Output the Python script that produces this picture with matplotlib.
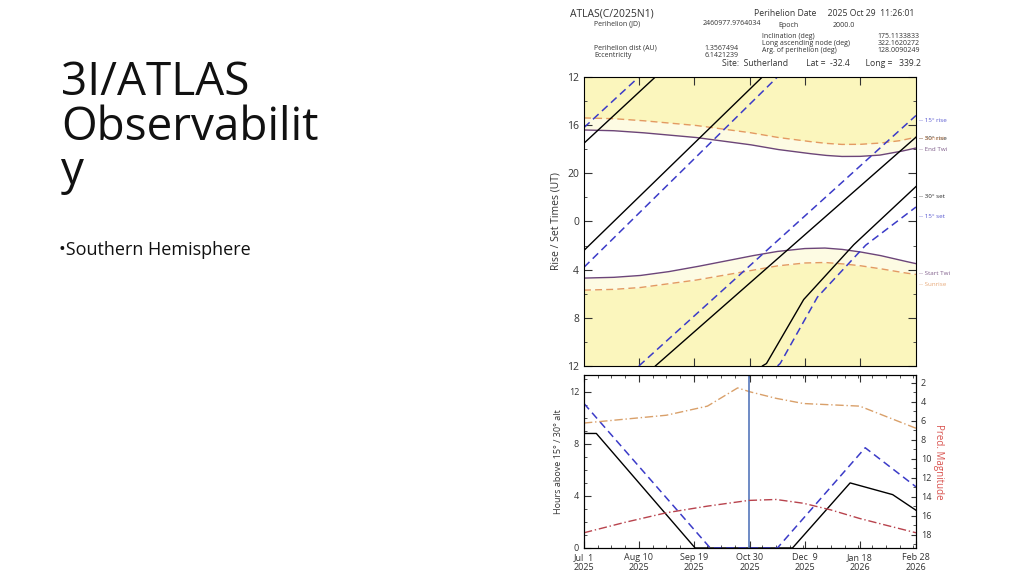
import numpy as np
import matplotlib
matplotlib.use("Agg")
import matplotlib.pyplot as plt

plt.rcParams['font.family'] = ['Open Sans', 'DejaVu Sans']

# ---- top panel: rise/set times (continuous UT hours, decreasing with date) ----
rise30_days = [0, 52, 130, 242]
rise30_hours = [17.5, 12, 4.2, -7]
set30_days = [0, 130, 133, 160, 196, 242]
set30_hours = [26.4, 12, 11.8, 6.5, 2, -2.9]
rise15_days = [0, 40, 242]
rise15_hours = [16.2, 12, -8.8]
set15_days = [0, 141, 143, 170, 205, 242]
set15_hours = [27.8, 12, 11.8, 6.3, 2, -1.2]

twi_days = [0, 20, 40, 60, 80, 100, 120, 140, 160, 175, 187, 200, 215, 230, 242]
end_twi = [16.4, 16.45, 16.6, 16.8, 17.0, 17.3, 17.6, 18.0, 18.3, 18.5, 18.6, 18.6, 18.5, 18.2, 17.9]
sunset = [15.4, 15.45, 15.6, 15.8, 16.0, 16.3, 16.6, 17.0, 17.3, 17.5, 17.6, 17.6, 17.5, 17.3, 17.0]
start_twi = [28.7, 28.65, 28.5, 28.2, 27.8, 27.35, 26.9, 26.5, 26.25, 26.2, 26.3, 26.5, 26.8, 27.2, 27.5]
sunrise = [29.7, 29.65, 29.5, 29.2, 28.9, 28.5, 28.1, 27.7, 27.45, 27.4, 27.5, 27.65, 27.9, 28.2, 28.4]

# ---- bottom panel ----
h30_days = [0, 9, 81, 152, 194, 225, 242]
h30 = [8.8, 8.8, 0, 0, 5.0, 4.1, 2.9]
h15_days = [0, 92, 141, 205, 242]
h15 = [11.1, 0, 0, 7.7, 4.7]
elong_days = [0, 30, 60, 90, 112, 121, 140, 160, 201, 242]
elong = [9.6, 9.9, 10.2, 10.9, 12.3, 12.0, 11.5, 11.1, 10.9, 9.2]
mag_days = [0, 30, 60, 90, 120, 140, 160, 180, 201, 220, 242]
mag = [17.8, 16.7, 15.7, 15.0, 14.4, 14.3, 14.7, 15.4, 16.3, 17.0, 17.8]

tick_days = [0, 40, 80, 121, 161, 201, 242]
tick_labels = ["Jul  1\n2025", "Aug 10\n2025", "Sep 19\n2025", "Oct 30\n2025",
               "Dec  9\n2025", "Jan 18\n2026", "Feb 28\n2026"]
perihelion_day = 120

blue = '#3b3bc8'
purple = '#6c4579'
orange = '#e39a62'
grid_d = np.linspace(0, 242, 1500)


def wrapped(ax, days, hours, **kw):
    h = np.interp(grid_d, days, hours)
    disp = (h - 12) % 24 + 12
    jumps = np.where(np.abs(np.diff(disp)) > 12)[0]
    x = np.insert(grid_d, jumps + 1, np.nan)
    y = np.insert(disp, jumps + 1, np.nan)
    ax.plot(x, y, **kw)


fig = plt.figure(figsize=(10.24, 5.75), dpi=100)

# slide text
fig.text(0.060, 0.895, "3I/ATLAS\nObservabilit\ny", fontsize=33, va='top',
         linespacing=0.95, color='#111111')
fig.text(0.058, 0.565, "•Southern Hemisphere", fontsize=13, va='center', color='#111111')

# header
hc = '#333333'
fs = 5
fig.text(0.557, 0.985, "ATLAS(C/2025N1)", fontsize=7.5, color=hc, va='top')
fig.text(0.736, 0.985, "Perihelion Date     2025 Oct 29  11:26:01", fontsize=6.2, color=hc, va='top')
fig.text(0.580, 0.965, "Perihelion (JD)", fontsize=fs, color=hc, va='top')
fig.text(0.686, 0.965, "2460977.9764034", fontsize=fs, color=hc, va='top')
fig.text(0.760, 0.961, "Epoch", fontsize=fs, color=hc, va='top')
fig.text(0.813, 0.961, "2000.0", fontsize=fs, color=hc, va='top')
fig.text(0.580, 0.922, "Perihelion dist (AU)\nEccentricity", fontsize=fs, color=hc, va='top', linespacing=1.0)
fig.text(0.721, 0.922, "1.3567494\n6.1421239", fontsize=fs, color=hc, va='top', ha='right', linespacing=1.0)
fig.text(0.744, 0.942, "Inclination (deg)\nLong ascending node (deg)\nArg. of perihelion (deg)",
         fontsize=fs, color=hc, va='top', linespacing=1.0)
fig.text(0.898, 0.942, "175.1133833\n322.1620272\n128.0090249", fontsize=fs, color=hc,
         va='top', ha='right', linespacing=1.0)
fig.text(0.705, 0.897, "Site:  Sutherland        Lat =  -32.4       Long =   339.2",
         fontsize=6.2, color=hc, va='top')

# top panel
ax = fig.add_axes([0.5703, 0.3635, 0.3242, 0.5026])
ax.set_xlim(0, 242)
ax.set_ylim(36, 12)
d = np.array(twi_days)
ax.fill_between(grid_d, 12, np.interp(grid_d, d, sunset), color='#fbf6bd', lw=0)
ax.fill_between(grid_d, np.interp(grid_d, d, sunset), np.interp(grid_d, d, end_twi), color='#fdfbe3', lw=0)
ax.fill_between(grid_d, np.interp(grid_d, d, start_twi), np.interp(grid_d, d, sunrise), color='#fdfbe3', lw=0)
ax.fill_between(grid_d, np.interp(grid_d, d, sunrise), 36, color='#fbf6bd', lw=0)
ax.plot(grid_d, np.interp(grid_d, d, end_twi), color=purple, lw=1)
ax.plot(grid_d, np.interp(grid_d, d, start_twi), color=purple, lw=1)
ax.plot(grid_d, np.interp(grid_d, d, sunset), color=orange, lw=1, ls=(0, (5, 3)))
ax.plot(grid_d, np.interp(grid_d, d, sunrise), color=orange, lw=1, ls=(0, (5, 3)))
wrapped(ax, rise30_days, rise30_hours, color='black', lw=1)
wrapped(ax, set30_days, set30_hours, color='black', lw=1)
wrapped(ax, rise15_days, rise15_hours, color=blue, lw=1.1, ls=(0, (5, 3)))
wrapped(ax, set15_days, set15_hours, color=blue, lw=1.1, ls=(0, (5, 3)))
ax.set_yticks([12, 16, 20, 24, 28, 32, 36])
ax.set_yticklabels(["12", "16", "20", "0", "4", "8", "12"])
ax.set_yticks(np.arange(12, 37, 2), minor=True)
ax.set_xticks(tick_days[1:-1])
ax.set_xticklabels([])
ax.tick_params(which='both', direction='in', right=True, top=True, labelsize=7.5, colors='#333333')
ax.tick_params(which='major', length=6)
ax.set_ylabel("Rise / Set Times (UT)", fontsize=7.5, color='#333333')
# "30° rise" and "Sunset" sit on top of each other in the original too
right_labels = [("15° rise", 15.6, blue), ("30° rise", 17.1, 'black'), ("Sunset", 17.1, orange),
                ("End Twi", 18.0, purple), ("30° set", 21.9, 'black'), ("15° set", 23.6, blue),
                ("Start Twi", 28.3, purple), ("Sunrise", 29.2, orange)]
for txt, yy, c in right_labels:
    ax.text(1.008, yy, "-- " + txt, transform=ax.get_yaxis_transform(), fontsize=4.5,
            color=c, va='center', alpha=0.85)

# bottom panel
bx = fig.add_axes([0.5703, 0.047, 0.3242, 0.301])
bx.set_xlim(0, 242)
bx.set_ylim(0, 13.3)
bx.plot(h30_days, h30, color='black', lw=1)
bx.plot(h15_days, h15, color=blue, lw=1.1, ls=(0, (5, 3)))
bx.plot(elong_days, elong, color='#d9a06a', lw=1, ls=(0, (6, 2, 1, 2)))
bx.axvline(perihelion_day, color='#5577bb', lw=1.2)
bx.set_yticks([0, 4, 8, 12])
bx.set_yticks(np.arange(0, 14, 1), minor=True)
bx.set_xticks(tick_days)
bx.set_xticklabels(tick_labels)
bx.set_xticks(np.arange(0, 243, 10), minor=True)
bx.tick_params(which='both', direction='in', top=True, labelsize=6.5, colors='#333333')
bx.tick_params(which='major', length=5)
bx.set_ylabel("Hours above 15° / 30° alt", fontsize=6.5, color='#333333')
mx = bx.twinx()
mx.set_ylim(19.4, 1.2)
mx.plot(mag_days, mag, color='#b8434d', lw=1, ls=(0, (6, 2, 1, 2)))
mx.set_yticks(np.arange(2, 19, 2))
mx.set_yticks(np.arange(2, 20, 1), minor=True)
mx.tick_params(which='both', direction='in', labelsize=6.5, colors='#333333')
mx.set_ylabel("Pred. Magnitude", fontsize=7, color='#d9534f', rotation=270, labelpad=9)

fig.savefig("out.png", dpi=100)
